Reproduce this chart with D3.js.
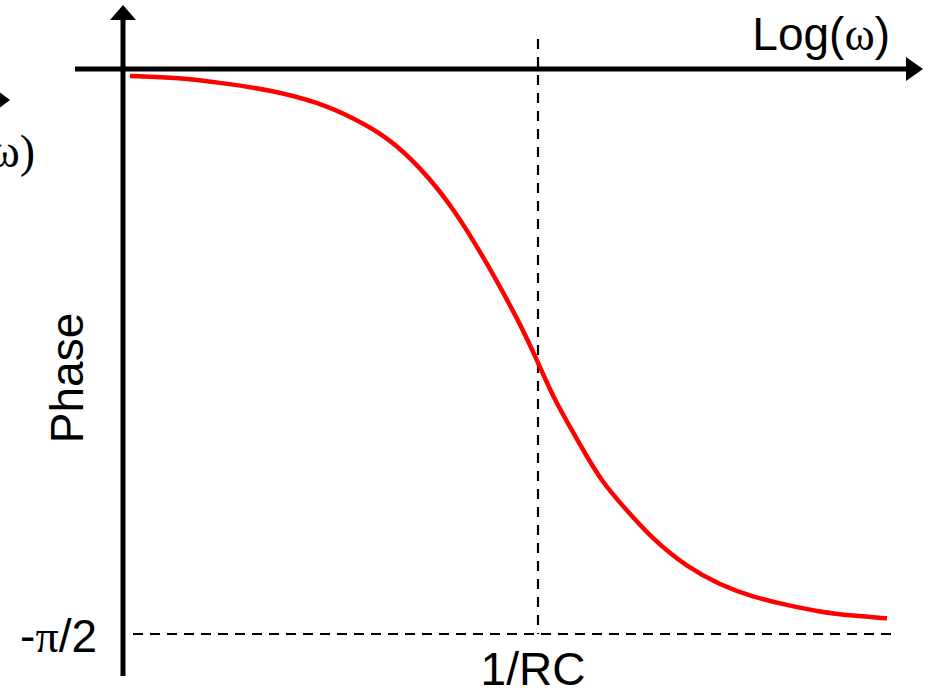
<!DOCTYPE html>
<html>
<head>
<meta charset="utf-8">
<script src="https://cdn.jsdelivr.net/npm/d3@7"></script>
<style>
  body { margin: 0; background: #fff; }
  text { font-family: "Liberation Sans", Arial, sans-serif; fill: #000; }
  .serif { font-family: "Liberation Serif", "Times New Roman", serif; }
</style>
</head>
<body>
<script>
// log10(omega * RC)
const logOmega = [-2.04, -1.79, -1.59, -1.34, -1.09, -0.925, -0.755, -0.59, -0.425, -0.255,
                  -0.09, -0.005, 0.075, 0.16, 0.245, 0.325, 0.41, 0.575, 0.745, 0.91,
                  1.075, 1.245, 1.41, 1.575, 1.745];
// phase in degrees
const phaseDeg = [-1.1, -1.4, -2.2, -3.3, -5.4, -7.8, -10.8, -15.6, -22.0, -30.9,
                  -40.5, -46.4, -52.2, -57.0, -61.8, -65.9, -69.1, -75.0, -79.3, -82.2,
                  -84.1, -85.4, -86.5, -87.1, -87.5];
const cornerLog = 0;      // 1/RC
const minPhase = -90;     // -pi/2

const width = 928;
const height = 692;

const svg = d3.select("body")
    .append("svg")
    .attr("width", width)
    .attr("height", height);

const x = d3.scaleLinear().domain([-2, 2]).range([138, 938]);
const y = d3.scaleLinear().domain([0, -90]).range([69, 634]);

const axisX = 123;   // vertical axis position
const axisY = 69;    // horizontal axis position

// dashed guides
svg.append("line")
    .attr("x1", x(cornerLog)).attr("x2", x(cornerLog))
    .attr("y1", 39).attr("y2", y(minPhase))
    .attr("stroke", "#000").attr("stroke-width", 2.2)
    .attr("stroke-dasharray", "10,8");

svg.append("line")
    .attr("x1", 133).attr("x2", 895)
    .attr("y1", y(minPhase)).attr("y2", y(minPhase))
    .attr("stroke", "#000").attr("stroke-width", 2.2)
    .attr("stroke-dasharray", "10,7");

// axes
svg.append("line")
    .attr("x1", axisX).attr("x2", axisX)
    .attr("y1", 18).attr("y2", 676)
    .attr("stroke", "#000").attr("stroke-width", 5);

svg.append("line")
    .attr("x1", 75).attr("x2", 910)
    .attr("y1", axisY).attr("y2", axisY)
    .attr("stroke", "#000").attr("stroke-width", 5);

// arrow heads
svg.append("path")
    .attr("d", `M${axisX},5 L${axisX - 13},20 L${axisX + 13},20 Z`)
    .attr("fill", "#000");

svg.append("path")
    .attr("d", `M923,${axisY} L906,${axisY - 12} L906,${axisY + 12} Z`)
    .attr("fill", "#000");

// clipped arrow from a neighbouring panel
svg.append("path")
    .attr("d", "M10,100 L-6,88 L-6,112 Z")
    .attr("fill", "#000");

// phase curve
const line = d3.line()
    .x(d => x(d[0]))
    .y(d => y(d[1]))
    .curve(d3.curveBasis);

svg.append("path")
    .datum(d3.zip(logOmega, phaseDeg))
    .attr("d", line)
    .attr("fill", "none")
    .attr("stroke", "#ff0000")
    .attr("stroke-width", 4.5)
    .attr("stroke-linecap", "butt");

// labels
const xLabel = svg.append("text")
    .attr("x", 890).attr("y", 50)
    .attr("text-anchor", "end")
    .attr("font-size", 46);
xLabel.append("tspan").text("Log(");
xLabel.append("tspan").attr("class", "serif").text("ω");
xLabel.append("tspan").text(")");

const leftLabel = svg.append("text")
    .attr("x", 35).attr("y", 167)
    .attr("text-anchor", "end")
    .attr("font-size", 46);
leftLabel.append("tspan").text("Log(");
leftLabel.append("tspan").attr("class", "serif").text("ω)");

svg.append("text")
    .attr("transform", `translate(83,378) rotate(-90)`)
    .attr("text-anchor", "middle")
    .attr("font-size", 46)
    .text("Phase");

const minLabel = svg.append("text")
    .attr("x", 97).attr("y", y(minPhase) + 18)
    .attr("text-anchor", "end")
    .attr("font-size", 46);
minLabel.append("tspan").text("-");
minLabel.append("tspan").attr("class", "serif").text("π");
minLabel.append("tspan").text("/2");

svg.append("text")
    .attr("x", x(cornerLog) - 5).attr("y", 685)
    .attr("text-anchor", "middle")
    .attr("font-size", 46)
    .text("1/RC");
</script>
</body>
</html>
